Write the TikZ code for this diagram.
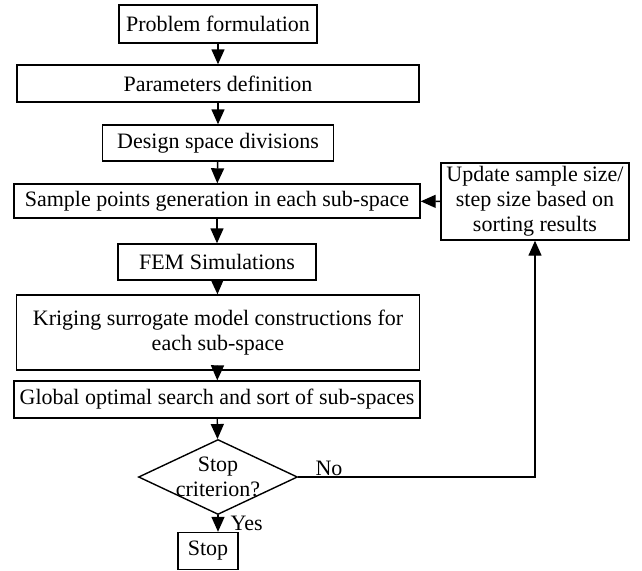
\documentclass[tikz,border=0pt]{standalone}
\usepackage{fontspec}
\setmainfont{Liberation Serif}
\usepackage{tikz}
\usetikzlibrary{arrows.meta,positioning,shapes.geometric}
\tikzset{
  fcbox/.style={rectangle,draw=black,fill=white,line width=1.4pt,
    inner sep=2pt,align=center,font=\fontsize{22}{25}\selectfont},
  fcdecide/.style={diamond,draw=black,fill=white,line width=1.4pt,
    inner sep=0pt,minimum width=159pt,minimum height=75pt},
  fctext/.style={font=\fontsize{22}{25}\selectfont,align=center,inner sep=1pt},
  fcedge/.style={-{Triangle[length=15pt,width=13pt]},line width=1.4pt,color=black},
}
\begin{document}
\begin{tikzpicture}[x=1pt,y=-1pt]
  \useasboundingbox (0,0) rectangle (642,570);
  % main column
  \node[fcbox,minimum width=198pt,minimum height=38pt] (prob)   at (218,24)    {Problem formulation};
  \node[fcbox,minimum width=402pt,minimum height=37pt] (param)  at (218,83.5)  {Parameters definition};
  \node[fcbox,minimum width=231pt,minimum height=36pt] (divide) at (218,143)   {Design space divisions};
  \node[fcbox,minimum width=406pt,minimum height=34pt] (sample) at (217,201)   {Sample points generation in each sub-space};
  \node[fcbox,minimum width=198pt,minimum height=36pt] (fem)    at (217,262)   {FEM Simulations};
  \node[fcbox,minimum width=403pt,minimum height=75pt] (krig)   at (218,332.5) {Kriging surrogate model constructions for\\each sub-space};
  \node[fcbox,minimum width=406pt,minimum height=37pt] (glob)   at (217,399.5) {Global optimal search and sort of sub-spaces};
  \node[fcdecide] (crit) at (218,477) {};
  \node[fctext] (crittext) at (crit.center) {Stop\\criterion?};
  \node[fcbox,minimum width=60pt,minimum height=37pt] (stop) at (208,551) {Stop};
  % feedback box
  \node[fcbox,minimum width=188pt,minimum height=77pt] (update) at (535,201.5) {Update sample size/\\step size based on\\sorting results};

  \draw[fcedge] (prob) -- (param);
  \draw[fcedge] (param) -- (divide);
  \draw[fcedge] (divide) -- (sample);
  \draw[fcedge] (sample) -- (fem);
  \draw[fcedge] (fem) -- (krig);
  \draw[fcedge] (krig) -- (glob);
  \draw[fcedge] (glob) -- (crit);
  \draw[fcedge] (crit.south) -- node[right=11pt,fctext]{Yes} (crit.south |- stop.north);
  \draw[fcedge] (crit.east) -| node[pos=0.065,above,fctext]{No} (update.south);
  \draw[fcedge] (update) -- (sample);
\end{tikzpicture}
\end{document}
